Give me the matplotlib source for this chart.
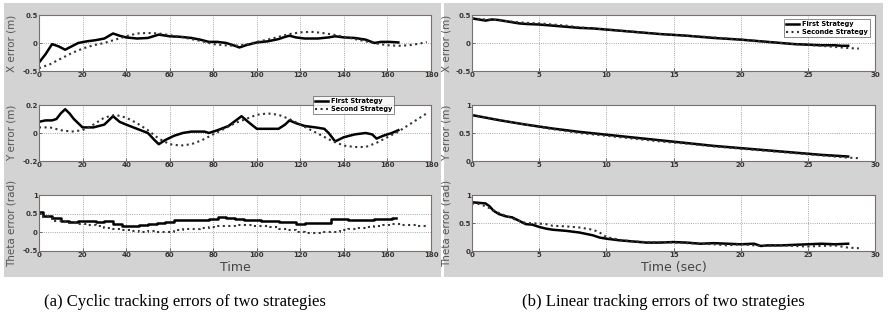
import matplotlib
matplotlib.use('Agg')
import matplotlib.pyplot as plt
from matplotlib.patches import Rectangle

# ---- data ----
# (a) cyclic tracking, time 0..180
xa1_t = [0, 3, 6, 9, 12, 15, 18, 22, 26, 30, 34, 37, 40, 45, 50, 55, 60, 65, 70, 74, 78, 82,
         86, 90, 92, 95, 100, 105, 110, 113, 115, 118, 122, 128, 133, 136, 140, 145, 150,
         154, 157, 161, 165]
xa1 = [-0.35, -0.2, -0.02, -0.06, -0.12, -0.06, 0.0, 0.03, 0.05, 0.08, 0.17, 0.13, 0.1, 0.08,
       0.09, 0.15, 0.12, 0.11, 0.09, 0.06, 0.02, 0.02, 0.0, -0.05, -0.08, -0.04, 0.01, 0.03,
       0.07, 0.11, 0.13, 0.1, 0.08, 0.08, 0.1, 0.12, 0.1, 0.09, 0.06, 0.0, 0.02, 0.02, 0.01]
xa2_t = [0, 5, 10, 15, 20, 25, 30, 35, 40, 45, 50, 55, 60, 65, 70, 75, 80, 85, 90, 95, 100,
         105, 110, 115, 120, 125, 130, 135, 140, 145, 150, 155, 160, 165, 170, 175, 178]
xa2 = [-0.45, -0.38, -0.28, -0.18, -0.1, -0.04, 0.0, 0.06, 0.12, 0.17, 0.18, 0.17, 0.14, 0.11,
       0.07, 0.03, -0.02, -0.04, -0.05, -0.03, 0.02, 0.06, 0.11, 0.16, 0.19, 0.2, 0.18, 0.15,
       0.11, 0.07, 0.03, -0.01, -0.04, -0.05, -0.04, -0.01, 0.02]

ya1_t = [0, 3, 6, 8, 10, 12, 14, 16, 20, 25, 30, 34, 37, 40, 45, 50, 53, 55, 58, 62, 66, 70,
         74, 76, 78, 82, 87, 93, 96, 100, 105, 110, 113, 115, 118, 122, 127, 131, 133, 136,
         140, 145, 150, 153, 155, 158, 162, 165]
ya1 = [0.08, 0.09, 0.09, 0.1, 0.14, 0.17, 0.14, 0.1, 0.04, 0.04, 0.06, 0.12, 0.08, 0.06, 0.03,
       0.0, -0.05, -0.08, -0.05, -0.02, 0.0, 0.01, 0.01, 0.01, 0.0, 0.02, 0.05, 0.12, 0.08,
       0.03, 0.03, 0.03, 0.06, 0.09, 0.07, 0.05, 0.04, 0.03, 0.0, -0.06, -0.03, -0.01, 0.0,
       -0.01, -0.04, -0.02, 0.0, 0.02]
ya2_t = xa2_t
ya2 = [0.04, 0.04, 0.02, 0.01, 0.02, 0.06, 0.11, 0.13, 0.11, 0.07, 0.02, -0.04, -0.08, -0.09,
       -0.08, -0.05, -0.01, 0.03, 0.07, 0.1, 0.13, 0.14, 0.13, 0.1, 0.06, 0.02, -0.02, -0.06,
       -0.09, -0.1, -0.1, -0.07, -0.03, 0.01, 0.06, 0.11, 0.14]

ta1_t = [0, 4, 8, 12, 16, 20, 24, 28, 32, 36, 40, 44, 48, 52, 56, 60, 64, 68, 72, 76, 80, 84,
         88, 92, 96, 100, 104, 108, 112, 116, 120, 124, 128, 132, 136, 140, 144, 148, 152,
         156, 160, 164]
ta1 = [0.55, 0.45, 0.38, 0.3, 0.27, 0.3, 0.31, 0.28, 0.3, 0.22, 0.18, 0.17, 0.2, 0.22, 0.26,
       0.28, 0.33, 0.32, 0.34, 0.33, 0.36, 0.4, 0.38, 0.35, 0.33, 0.32, 0.3, 0.31, 0.29, 0.27,
       0.22, 0.24, 0.25, 0.24, 0.35, 0.37, 0.34, 0.33, 0.32, 0.35, 0.35, 0.38]
ta2_t = [0, 4, 8, 12, 16, 20, 24, 28, 32, 36, 40, 44, 48, 52, 56, 60, 64, 68, 72, 76, 80, 84,
         88, 92, 96, 100, 104, 108, 112, 116, 120, 124, 128, 132, 136, 140, 144, 148, 152,
         156, 160, 164, 168, 172, 176, 178]
ta2 = [0.5, 0.4, 0.3, 0.27, 0.24, 0.22, 0.2, 0.18, 0.12, 0.1, 0.05, 0.03, 0.02, 0.03, 0.0,
       0.02, 0.06, 0.08, 0.1, 0.12, 0.14, 0.17, 0.18, 0.2, 0.2, 0.18, 0.16, 0.14, 0.1, 0.06,
       0.02, -0.01, -0.02, 0.0, 0.02, 0.06, 0.1, 0.12, 0.15, 0.17, 0.19, 0.21, 0.2, 0.19,
       0.18, 0.17]

# (b) linear tracking, time 0..30 s
xb1_t = [0, 0.5, 1, 1.5, 2, 2.5, 3, 3.5, 4, 5, 6, 7, 8, 9, 10, 12, 14, 16, 18, 20, 22, 24,
         25, 26, 27, 27.5, 28]
xb1 = [0.44, 0.42, 0.4, 0.42, 0.41, 0.39, 0.37, 0.35, 0.34, 0.33, 0.31, 0.29, 0.27, 0.26,
       0.24, 0.2, 0.16, 0.13, 0.09, 0.06, 0.02, -0.02, -0.03, -0.04, -0.04, -0.05, -0.05]
xb2_t = [0, 1, 2, 3, 4, 5, 6, 7, 8, 9, 10, 12, 14, 16, 18, 20, 22, 24, 26, 27, 28, 28.8]
xb2 = [0.44, 0.42, 0.41, 0.38, 0.36, 0.35, 0.33, 0.31, 0.28, 0.26, 0.24, 0.2, 0.16, 0.13,
       0.1, 0.06, 0.02, -0.02, -0.05, -0.07, -0.09, -0.1]

yb1_t = [0, 2, 4, 6, 8, 10, 12, 14, 16, 18, 20, 22, 24, 26, 28]
yb1 = [0.82, 0.73, 0.65, 0.58, 0.52, 0.47, 0.42, 0.37, 0.32, 0.27, 0.23, 0.19, 0.15, 0.11, 0.08]
yb2_t = [0, 2, 4, 6, 8, 10, 12, 14, 16, 18, 20, 22, 24, 26, 28, 28.8]
yb2 = [0.82, 0.73, 0.65, 0.57, 0.5, 0.45, 0.4, 0.35, 0.31, 0.26, 0.22, 0.18, 0.14, 0.1,
       0.06, 0.05]

tb1_t = [0, 0.5, 1, 1.3, 1.6, 2, 2.5, 3, 3.5, 4, 4.5, 5, 5.5, 6, 7, 8, 9, 9.5, 10, 11, 12,
         13, 14, 15, 16, 17, 18, 19, 20, 21, 21.5, 22, 23, 24, 25, 26, 27, 28]
tb1 = [0.87, 0.86, 0.85, 0.8, 0.72, 0.66, 0.62, 0.6, 0.54, 0.48, 0.47, 0.43, 0.4, 0.38, 0.36,
       0.33, 0.28, 0.24, 0.22, 0.19, 0.17, 0.15, 0.15, 0.16, 0.15, 0.13, 0.14, 0.13, 0.12,
       0.13, 0.09, 0.1, 0.1, 0.11, 0.12, 0.13, 0.12, 0.13]
tb2_t = [0, 0.5, 1, 1.5, 2, 2.5, 3, 4, 5, 5.5, 6, 7, 8, 9, 9.5, 10, 11, 12, 13, 14, 15, 16,
         17, 18, 19, 20, 21, 22, 23, 24, 25, 26, 27, 28, 28.8]
tb2 = [0.85, 0.84, 0.8, 0.74, 0.68, 0.63, 0.58, 0.5, 0.49, 0.48, 0.45, 0.44, 0.42, 0.38,
       0.33, 0.25, 0.2, 0.17, 0.16, 0.16, 0.15, 0.14, 0.13, 0.12, 0.1, 0.12, 0.1, 0.09, 0.1,
       0.09, 0.08, 0.09, 0.1, 0.06, 0.05]

YLABELS = ["X error (m)", "Y error (m)", "Theta error (rad)"]
YLIM_A = [(-0.5, 0.5), (-0.2, 0.2), (-0.5, 1)]
YTICKS_A = [[-0.5, 0, 0.5], [-0.2, 0, 0.2], [-0.5, 0, 0.5, 1]]
YLIM_B = [(-0.5, 0.5), (0, 1), (0, 1)]
YTICKS_B = [[-0.5, 0, 0.5], [0, 0.5, 1], [0, 0.5, 1]]
XTICKS_A = [0, 20, 40, 60, 80, 100, 120, 140, 160, 180]
XTICKS_B = [0, 5, 10, 15, 20, 25, 30]

# ---- figure ----
W, H = 889, 322
fig = plt.figure(figsize=(W / 100, H / 100), dpi=100)
fig.patch.set_facecolor('white')

def px_rect(x0, y0, x1, y1):
    return [x0 / W, 1 - y1 / H, (x1 - x0) / W, (y1 - y0) / H]

# gray panel backgrounds
for x0, x1 in [(4, 441), (444, 883)]:
    r = px_rect(x0, 3, x1, 277)
    fig.patches.append(Rectangle((r[0], r[1]), r[2], r[3], transform=fig.transFigure,
                                 facecolor='#d3d3d3', edgecolor='none', zorder=-10))

rows = [(15, 71), (105, 161), (195, 251)]


def fmt(v):
    return ('%g' % v)


def style_ax(ax, xlim, xticks, ylim, yticks):
    ax.set_xlim(*xlim)
    ax.set_ylim(*ylim)
    ax.set_xticks(xticks)
    ax.set_yticks(yticks)
    ax.set_xticklabels([fmt(v) for v in xticks])
    ax.set_yticklabels([fmt(v) for v in yticks])
    ax.tick_params(labelsize=5, colors='#333333', length=2, width=0.5, pad=1, direction='in')
    for t in ax.get_xticklabels() + ax.get_yticklabels():
        t.set_fontweight('bold')
    ax.grid(True, linestyle=':', color='#8a8a8a', linewidth=0.6)
    for s in ax.spines.values():
        s.set_color('#7a6f6a')
        s.set_linewidth(0.8)


axes_a, axes_b = [], []
series_a = [(xa1_t, xa1, xa2_t, xa2), (ya1_t, ya1, ya2_t, ya2), (ta1_t, ta1, ta2_t, ta2)]
series_b = [(xb1_t, xb1, xb2_t, xb2), (yb1_t, yb1, yb2_t, yb2), (tb1_t, tb1, tb2_t, tb2)]

for i, (y0, y1) in enumerate(rows):
    ax = fig.add_axes(px_rect(39, y0, 431, y1))
    style_ax(ax, (0, 180), XTICKS_A, YLIM_A[i], YTICKS_A[i])
    t1, v1, t2, v2 = series_a[i]
    ds = 'steps-mid' if i == 2 else 'default'
    ax.plot(t1, v1, color='black', lw=1.8, drawstyle=ds, label='First Strategy')
    ax.plot(t2, v2, color='#333333', lw=1.5, ls=':', drawstyle=ds, label='Second Strategy')
    ax.set_ylabel(YLABELS[i], fontsize=7.5, color='#555555')
    ax.yaxis.set_label_coords(-0.058, 0.5)
    axes_a.append(ax)

    ax = fig.add_axes(px_rect(472, y0, 875, y1))
    style_ax(ax, (0, 30), XTICKS_B, YLIM_B[i], YTICKS_B[i])
    t1, v1, t2, v2 = series_b[i]
    ax.plot(t1, v1, color='black', lw=1.8, label='First Strategy')
    ax.plot(t2, v2, color='#333333', lw=1.5, ls=':', label='Seconde Strategy')
    ax.set_ylabel(YLABELS[i], fontsize=7.5, color='#555555')
    ax.yaxis.set_label_coords(-0.05, 0.5)
    axes_b.append(ax)

leg_kw = dict(frameon=True, fancybox=False, edgecolor='#555555',
              handlelength=2.0, borderpad=0.3, labelspacing=0.3, handletextpad=0.4,
              prop={'weight': 'bold', 'size': 4.8})
la = axes_a[1].legend(loc='upper right', bbox_to_anchor=(0.915, 1.22), **leg_kw)
lb = axes_b[0].legend(loc='upper right', bbox_to_anchor=(0.995, 0.99), **leg_kw)
for lg in (la, lb):
    lg.get_frame().set_linewidth(0.6)

axes_a[2].set_xlabel('Time', fontsize=9, color='#444444', labelpad=2)
axes_b[2].set_xlabel('Time (sec)', fontsize=9, color='#444444', labelpad=2)

fig.text(185 / W, 1 - 302 / H, '(a) Cyclic tracking errors of two strategies',
         ha='center', va='center', fontsize=12, family='Liberation Serif')
fig.text(663 / W, 1 - 302 / H, '(b) Linear tracking errors of two strategies',
         ha='center', va='center', fontsize=12, family='Liberation Serif')

fig.savefig('out.png', dpi=100, facecolor='white')
plt.close(fig)
